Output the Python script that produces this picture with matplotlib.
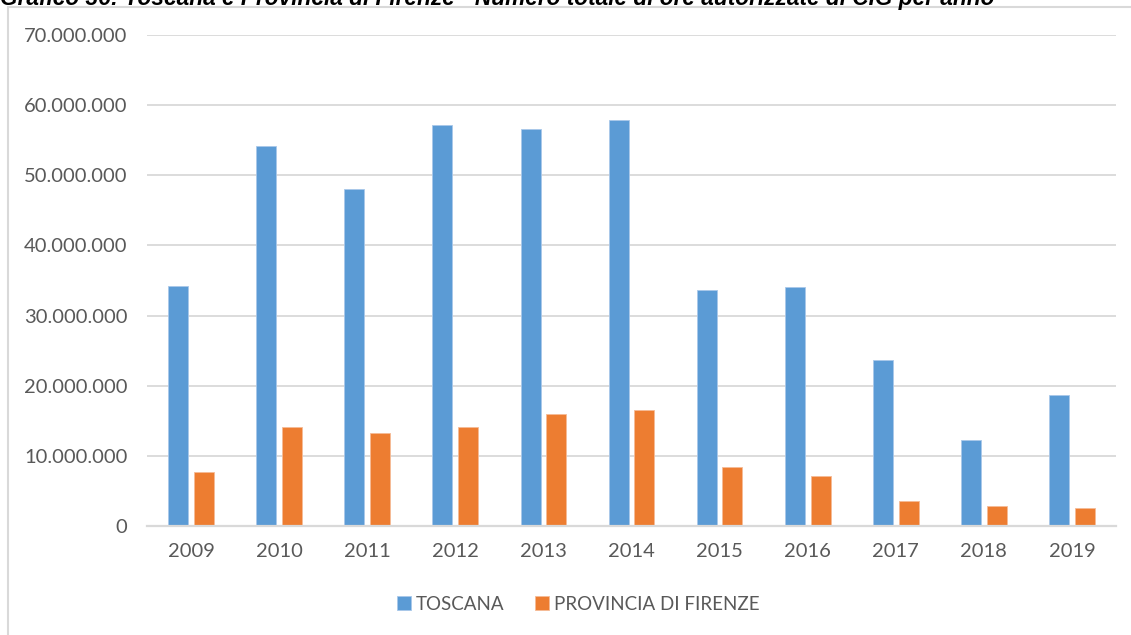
import matplotlib
matplotlib.use("Agg")
import matplotlib.pyplot as plt
from matplotlib.patches import Rectangle
from matplotlib.ticker import FuncFormatter

years = ["2009", "2010", "2011", "2012", "2013", "2014", "2015", "2016", "2017", "2018", "2019"]
toscana = [34.2e6, 54.2e6, 48.0e6, 57.2e6, 56.6e6, 57.9e6, 33.6e6, 34.1e6, 23.7e6, 12.2e6, 18.7e6]
firenze = [7.65e6, 14.1e6, 13.3e6, 14.1e6, 16.0e6, 16.5e6, 8.4e6, 7.1e6, 3.6e6, 2.8e6, 2.5e6]
series_names = ["TOSCANA", "PROVINCIA DI FIRENZE"]
title = "Grafico 36: Toscana e Provincia di Firenze - Numero totale di ore autorizzate di CIG per anno"

BLUE = "#5b9bd5"
ORANGE = "#ed7d31"
GRID = "#d9d9d9"
TEXT = "#595959"

W, H = 1131, 635
fig = plt.figure(figsize=(W / 100, H / 100), dpi=100)
fig.patch.set_facecolor("white")

# outer chart frame (top and left edges visible)
frame = Rectangle((8 / W, -0.2), 1.2, 0.2 + 1 - 7 / H,
                  transform=fig.transFigure, fill=False,
                  edgecolor=GRID, linewidth=1.5)
fig.patches.append(frame)

ax = fig.add_axes([147 / W, 1 - 526 / H, (1116 - 147) / W, (526 - 35) / H])

x = list(range(len(years)))
bw = 0.227
off = 0.146
b1 = ax.bar([i - off for i in x], toscana, width=bw, color=BLUE, label=series_names[0],
            edgecolor="#a9c8ea", linewidth=0.6, zorder=3)
b2 = ax.bar([i + off for i in x], firenze, width=bw, color=ORANGE, label=series_names[1],
            edgecolor="#f6bb96", linewidth=0.6, zorder=3)

ax.set_xlim(-0.5, len(years) - 0.5)
ax.set_ylim(0, 70e6)
ax.set_yticks([i * 10e6 for i in range(8)])
ax.yaxis.set_major_formatter(FuncFormatter(lambda v, p: f"{int(v):,}".replace(",", ".")))
ax.set_xticks(x)
ax.set_xticklabels(years)

ax.grid(axis="y", color=GRID, linewidth=1.3, zorder=0)
ax.set_axisbelow(True)
for s in ["top", "right", "left"]:
    ax.spines[s].set_visible(False)
ax.spines["bottom"].set_color(GRID)
ax.spines["bottom"].set_linewidth(1.6)
ax.spines["bottom"].set_zorder(4)
ax.tick_params(axis="both", length=0, colors=TEXT, labelsize=14.5)
ax.tick_params(axis="y", pad=14)
ax.tick_params(axis="x", pad=12)
for lab in ax.get_xticklabels() + ax.get_yticklabels():
    lab.set_fontfamily("Lato")

leg = fig.legend(handles=[b1, b2], labels=series_names, loc="center",
                 bbox_to_anchor=(578 / W, 1 - 604 / H), ncol=2, frameon=False,
                 prop={"family": "Lato", "size": 13.5}, handlelength=0.75,
                 handleheight=0.75, handletextpad=0.25, columnspacing=1.65)
for t in leg.get_texts():
    t.set_color(TEXT)

fig.text(0.0, 1 - 5 / H, title, fontsize=16.3, fontweight="bold", fontstyle="italic",
         family="Liberation Sans", color="#000000", ha="left", va="baseline")

fig.savefig("out.png", dpi=100, facecolor="white")
